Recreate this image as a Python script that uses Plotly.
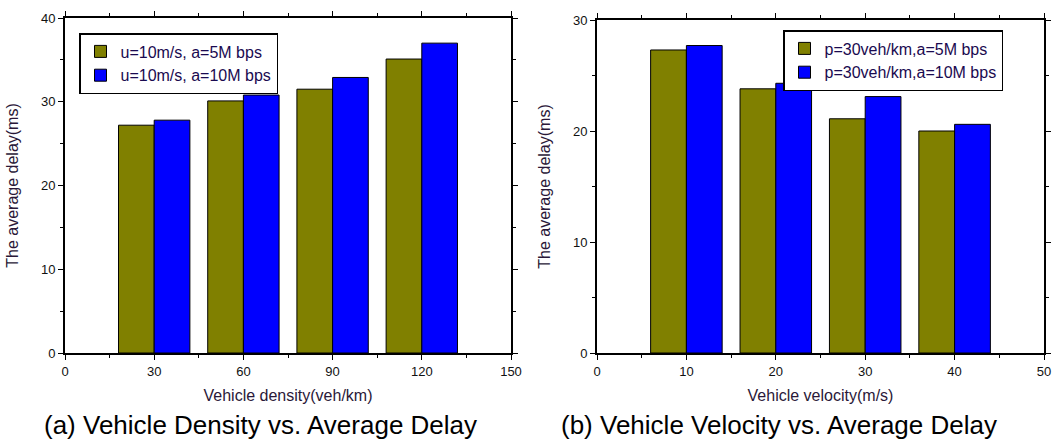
import plotly.graph_objects as go

# ---- data ----
density = [30, 60, 90, 120]
density_5m = [27.2, 30.1, 31.5, 35.1]
density_10m = [27.8, 30.8, 32.9, 37.0]

velocity = [10, 20, 30, 40]
velocity_5m = [27.3, 23.8, 21.1, 20.0]
velocity_10m = [27.7, 24.3, 23.1, 20.6]

names_a = ["u=10m/s, a=5M bps", "u=10m/s, a=10M bps"]
names_b = ["p=30veh/km,a=5M bps", "p=30veh/km,a=10M bps"]
captions = ["(a) Vehicle Density vs. Average Delay", "(b) Vehicle Velocity vs. Average Delay"]

OLIVE = "#808000"
BLUE = "#0000FF"
FONT = "Liberation Sans, Arial, sans-serif"
TXT = "#2a1838"

fig = go.Figure()
line = dict(color="black", width=1)
fig.add_trace(go.Bar(x=density, y=density_5m, name=names_a[0], marker=dict(color=OLIVE, line=line),
                     xaxis="x", yaxis="y", legend="legend"))
fig.add_trace(go.Bar(x=density, y=density_10m, name=names_a[1], marker=dict(color=BLUE, line=line),
                     xaxis="x", yaxis="y", legend="legend"))
fig.add_trace(go.Bar(x=velocity, y=velocity_5m, name=names_b[0], marker=dict(color=OLIVE, line=line),
                     xaxis="x2", yaxis="y2", legend="legend2"))
fig.add_trace(go.Bar(x=velocity, y=velocity_10m, name=names_b[1], marker=dict(color=BLUE, line=line),
                     xaxis="x2", yaxis="y2", legend="legend2"))

tickfont = dict(family=FONT, size=13, color="#111111")
titlefont = dict(family=FONT, size=16, color=TXT)

def axis(dom, rng, dt, anchor, title, standoff):
    return dict(domain=dom, range=rng, dtick=dt, tick0=0, anchor=anchor, showgrid=False, zeroline=False,
                showline=True, mirror="ticks", linecolor="black", linewidth=2, ticks="outside", ticklen=5, tickwidth=1,
                tickcolor="black", tickfont=tickfont, automargin=False,
                minor=dict(dtick=dt / 2, ticks="outside", ticklen=3, tickcolor="black", tickwidth=1),
                title=dict(text=title, font=titlefont, standoff=standoff), fixedrange=True)

W, H = 1055, 444
L, R, T, B = 65, W - 1044, 18, H - 353
PW, PH = W - L - R, H - T - B
xd1 = [0, (511 - L) / PW]
xd2 = [(597 - L) / PW, 1]
yd1 = [0, 1]
yd2 = [0, (353 - 20) / PH]

def px(x):
    return (x - L) / PW

def py(y):
    return (H - B - y) / PH

legfont = dict(family=FONT, size=16, color="#1a0a50")

fig.update_layout(
    width=W, height=H,
    margin=dict(l=L, r=R, t=T, b=B, autoexpand=False),
    paper_bgcolor="white", plot_bgcolor="white",
    barmode="group", bargap=0.2, bargroupgap=0,
    font=dict(family=FONT),
    xaxis=axis(xd1, [0, 150], 30, "y", "Vehicle density(veh/km)", 12),
    yaxis=axis(yd1, [0, 40], 10, "x", "The average delay(ms)", 18),
    xaxis2=axis(xd2, [0, 50], 10, "y2", "Vehicle velocity(m/s)", 12),
    yaxis2=axis(yd2, [0, 30], 10, "x2", "The average delay(ms)", 18),
    legend=dict(x=px(79), y=py(33), xanchor="left", yanchor="top", bgcolor="white",
                bordercolor="black", borderwidth=1.5, font=legfont,
                tracegroupgap=0, itemwidth=30),
    legend2=dict(x=px(783), y=py(30), xanchor="left", yanchor="top", bgcolor="white",
                 bordercolor="black", borderwidth=1.5, font=legfont,
                 tracegroupgap=0, itemwidth=30),
    showlegend=True,
    annotations=[
        dict(text=captions[0], x=px(260), y=py(425), xref="paper", yref="paper",
             showarrow=False, font=dict(family=FONT, size=26, color="black"), xanchor="center", yanchor="middle"),
        dict(text=captions[1], x=px(779), y=py(425), xref="paper", yref="paper",
             showarrow=False, font=dict(family=FONT, size=26, color="black"), xanchor="center", yanchor="middle"),
    ],
)

fig.write_html("out.html", config={"displayModeBar": False},
               post_script="document.body.style.margin='0';document.body.style.padding='0';")
